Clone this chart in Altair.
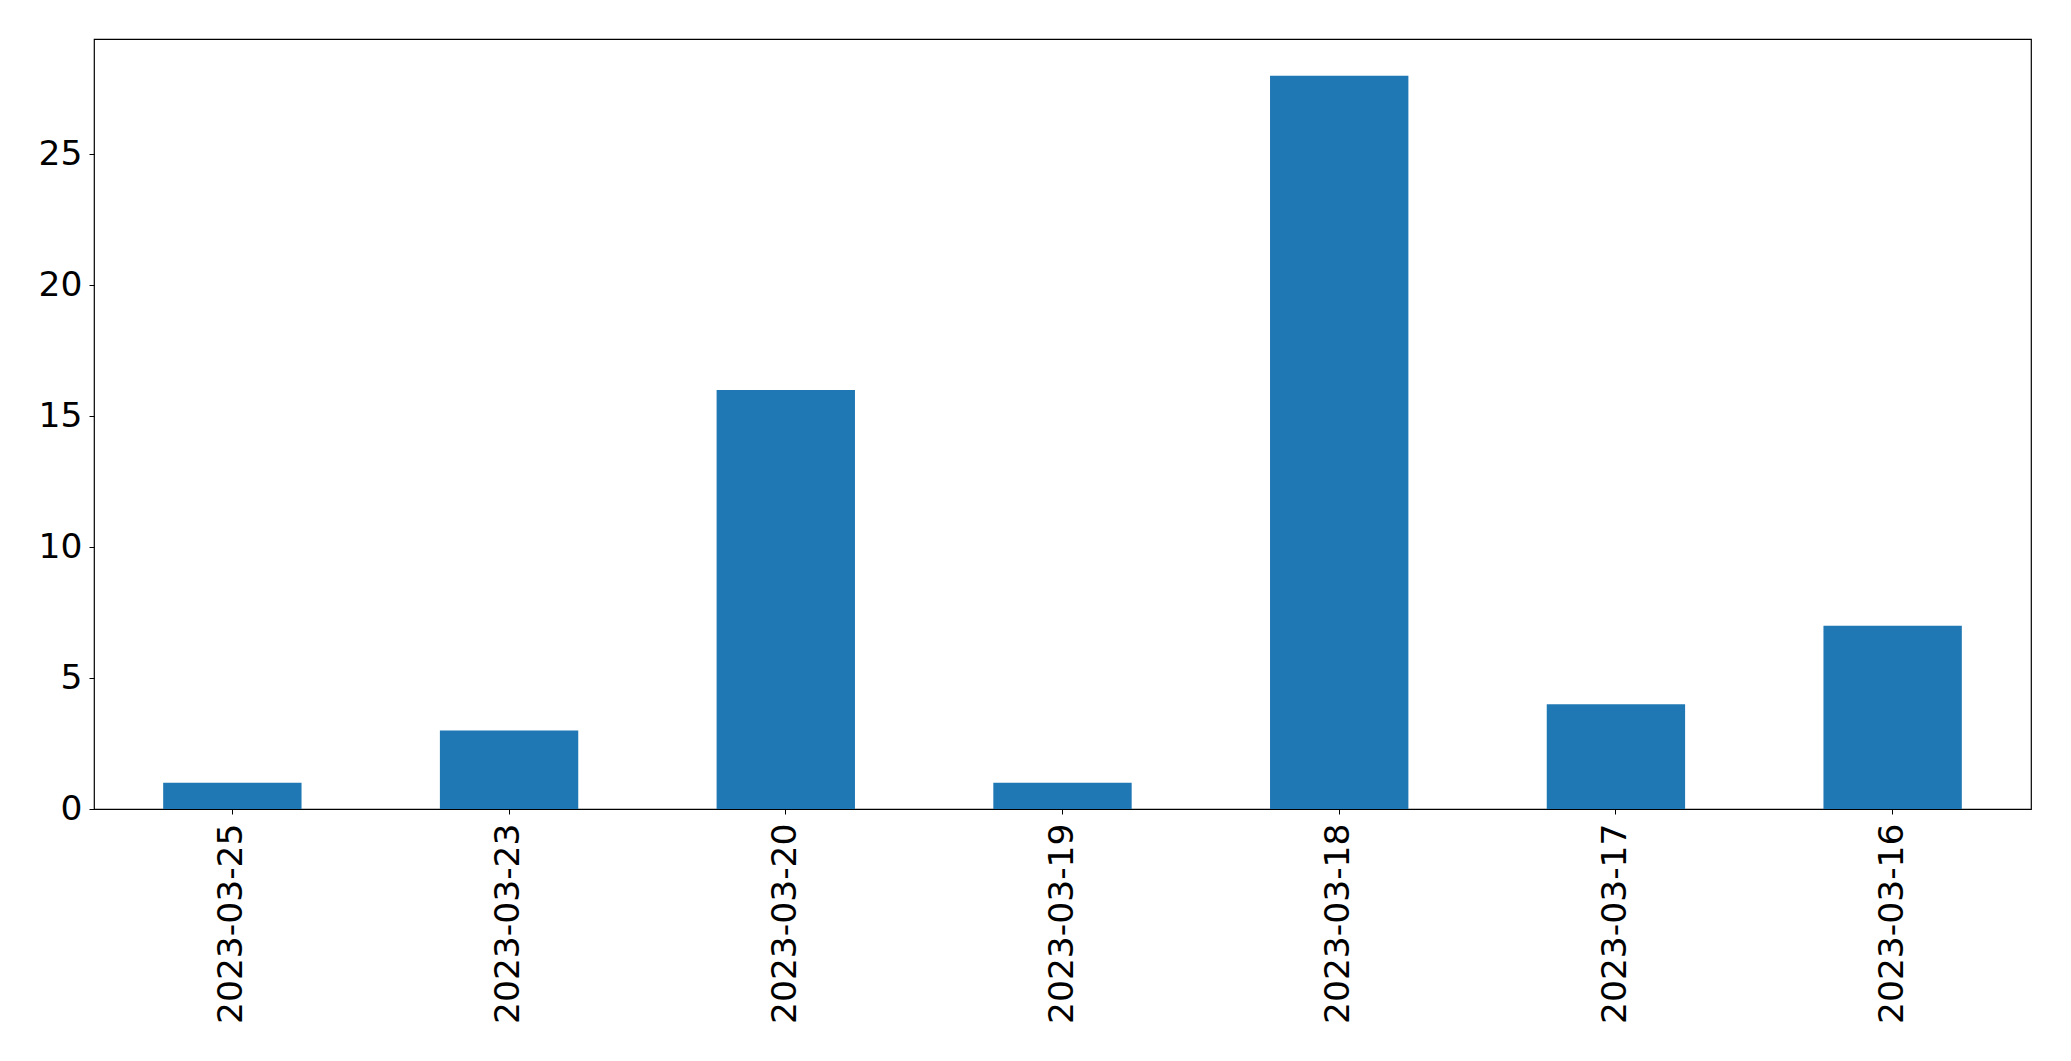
import altair as alt
import pandas as pd

dates = ["2023-03-25", "2023-03-23", "2023-03-20", "2023-03-19", "2023-03-18", "2023-03-17", "2023-03-16"]
counts = [1, 3, 16, 1, 28, 4, 7]
y_ticks = [0, 5, 10, 15, 20, 25]

df = pd.DataFrame({"date": dates, "count": counts})

chart = alt.Chart(df).mark_bar(color="#1f77b4").encode(
    x=alt.X("date:N", sort=None, title=None,
            scale=alt.Scale(paddingInner=0.5, paddingOuter=0.25),
            axis=alt.Axis(labelAngle=270, labelAlign="right", labelBaseline="middle",
                          labelFontSize=34.5, labelFont="DejaVu Sans", labelColor="black",
                          tickColor="black", tickSize=5, tickWidth=1, labelPadding=9,
                          labelLimit=0, domain=False, grid=False)),
    y=alt.Y("count:Q", title=None,
            scale=alt.Scale(domain=[0, 29.4], nice=False, zero=True),
            axis=alt.Axis(values=y_ticks, labelFontSize=34.5, labelFont="DejaVu Sans",
                          labelColor="black", tickColor="black", tickSize=5, tickWidth=1,
                          labelPadding=7, domain=False, grid=False)),
).properties(
    width=1937, height=770,
    autosize=alt.AutoSizeParams(type="none"),
    padding={"left": 86, "top": 31, "right": 30, "bottom": 230},
    background="white",
).configure_view(stroke="black", strokeWidth=1.2)

chart.save("out.html", embed_options={"renderer": "svg", "actions": False})
